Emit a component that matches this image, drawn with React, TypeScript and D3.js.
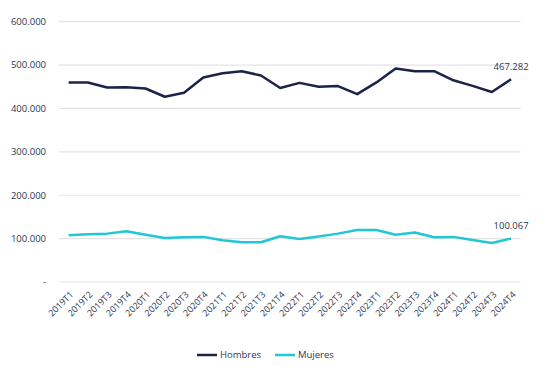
import React from "react";
import * as d3 from "d3";

const categories = [
  "2019T1","2019T2","2019T3","2019T4",
  "2020T1","2020T2","2020T3","2020T4",
  "2021T1","2021T2","2021T3","2021T4",
  "2022T1","2022T2","2022T3","2022T4",
  "2023T1","2023T2","2023T3","2023T4",
  "2024T1","2024T2","2024T3","2024T4",
];
const hombres = [
  460000, 460000, 448500, 449000, 446000, 427000, 436000, 471500,
  481000, 486000, 476000, 447000, 459000, 450000, 451500, 433000,
  460000, 492000, 486000, 486000, 465000, 452000, 438000, 467282,
];
const mujeres = [
  107700, 110000, 111500, 117000, 109000, 101500, 103000, 104000,
  96000, 91500, 91500, 105400, 99000, 105000, 111500, 120000,
  120000, 109000, 114000, 103000, 104000, 97000, 90000, 100067,
];
const yTicks = [0, 100000, 200000, 300000, 400000, 500000, 600000];
const seriesNames = ["Hombres", "Mujeres"];
const seriesColors = ["#1b2448", "#1fc8d3"];

const W = 545, H = 373;
const left = 59, right = 520.7, top = 21.7, bottom = 282;
const font = "'Open Sans', 'Liberation Sans', sans-serif";
const textColor = "#2b3654";

const fmt = (v: number) =>
  v === 0 ? "-" : d3.format(",.0f")(v).replace(/,/g, ".");

export default function App() {
  const x = d3.scalePoint<string>().domain(categories).range([left, right]).padding(0.5);
  const y = d3.scaleLinear().domain([0, 600000]).range([bottom, top]);
  const line = d3.line<number>().x((_, i) => x(categories[i])!).y((d) => y(d));
  const series = [hombres, mujeres];
  return (
    <svg width={W} height={H} style={{ position: "absolute", left: 0, top: 0, background: "#fff" }}>
      {yTicks.map((t) => (
        <g key={t}>
          <line x1={left} x2={right} y1={y(t)} y2={y(t)} stroke="#e3e3e3" strokeWidth={1.2} />
          <text x={46} y={y(t)} dy="0.35em" textAnchor="end" fontSize={9.5} fontFamily={font} fill={textColor}>
            {fmt(t)}
          </text>
        </g>
      ))}
      {categories.map((c) => (
        <text
          key={c}
          transform={`translate(${x(c)! + 3},${bottom + 11}) rotate(-45)`}
          textAnchor="end"
          dy="0.35em"
          fontSize={9}
          fontFamily={font}
          fill={textColor}
        >
          {c}
        </text>
      ))}
      {series.map((s, i) => (
        <path key={i} d={line(s)!} fill="none" stroke={seriesColors[i]} strokeWidth={2.5} strokeLinejoin="round" />
      ))}
      {series.map((s, i) => {
        const last = s.length - 1;
        return (
          <text
            key={"l" + i}
            x={x(categories[last])!}
            y={y(s[last]) - 13}
            dy="0.35em"
            textAnchor="middle"
            fontSize={9.5}
            fontFamily={font}
            fill={textColor}
          >
            {fmt(s[last])}
          </text>
        );
      })}
      {seriesNames.map((n, i) => {
        const lx = i === 0 ? 197 : 275;
        return (
          <g key={n}>
            <line x1={lx} x2={lx + 20} y1={355} y2={355} stroke={seriesColors[i]} strokeWidth={2.5} />
            <text x={lx + 23} y={355} dy="0.35em" fontSize={9.5} fontFamily={font} fill={textColor}>
              {n}
            </text>
          </g>
        );
      })}
    </svg>
  );
}
